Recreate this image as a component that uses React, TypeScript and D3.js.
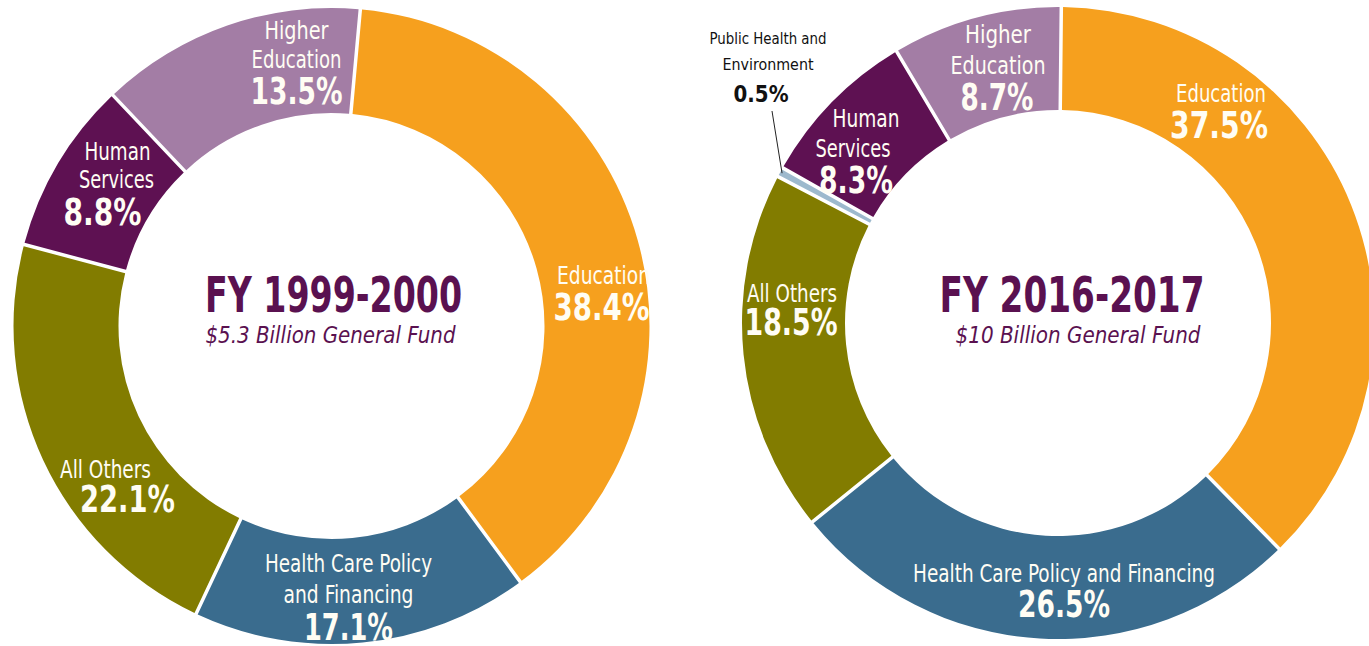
import React from "react";
import * as d3 from "d3";

// ---- Data ----
const leftCategories = ["Education", "Health Care Policy and Financing", "All Others", "Human Services", "Higher Education"];
const leftValues = [38.4, 17.1, 22.1, 8.8, 13.5];
const rightCategories = ["Education", "Health Care Policy and Financing", "All Others", "Public Health and Environment", "Human Services", "Higher Education"];
const rightValues = [37.5, 26.5, 18.5, 0.5, 8.3, 8.7];
const titles = ["FY 1999-2000", "FY 2016-2017"];
const subtitles = ["$5.3 Billion General Fund", "$10 Billion General Fund"];

// ---- Styles ----
const colorMap: Record<string, string> = {
  "Education": "#F6A01E",
  "Health Care Policy and Financing": "#3A6C8E",
  "All Others": "#827C00",
  "Public Health and Environment": "#9DB9CD",
  "Human Services": "#5E1152",
  "Higher Education": "#A37DA5",
};
const FONT = "'DejaVu Sans Condensed', 'Liberation Sans Narrow', 'DejaVu Sans', sans-serif";
const TITLE_COLOR = "#5A1150";
const LABEL_COLOR = "#FFFDF4";

type Line = { t: string; dx: number; dy: number; size: number; w: number; bold?: boolean; color?: string };

// label layout, offsets relative to donut center (w = rendered width)
const leftLabels: Line[] = [
  { t: "Higher", dx: -35, dy: -287, size: 24, w: 64 },
  { t: "Education", dx: -35, dy: -258, size: 24, w: 90 },
  { t: "13.5%", dx: -35, dy: -222, size: 38, w: 92, bold: true },
  { t: "Human", dx: -214, dy: -166, size: 24, w: 66 },
  { t: "Services", dx: -215, dy: -138, size: 24, w: 75 },
  { t: "8.8%", dx: -229, dy: -101, size: 38, w: 78, bold: true },
  { t: "Education", dx: 272, dy: -42, size: 24, w: 93 },
  { t: "38.4%", dx: 270, dy: -6, size: 38, w: 96, bold: true },
  { t: "All Others", dx: -226, dy: 152, size: 24, w: 91 },
  { t: "22.1%", dx: -204, dy: 186, size: 38, w: 95, bold: true },
  { t: "Health Care Policy", dx: 17, dy: 246, size: 24, w: 167 },
  { t: "and Financing", dx: 17, dy: 277, size: 24, w: 130 },
  { t: "17.1%", dx: 17, dy: 314, size: 38, w: 89, bold: true },
];
const rightLabels: Line[] = [
  { t: "Public Health and", dx: -290, dy: -279, size: 16, w: 117, color: "#111" },
  { t: "Environment", dx: -290, dy: -253, size: 16, w: 91, color: "#111" },
  { t: "0.5%", dx: -297, dy: -221, size: 23, w: 55, bold: true, color: "#111" },
  { t: "Human", dx: -192, dy: -196, size: 24, w: 67 },
  { t: "Services", dx: -205, dy: -166, size: 24, w: 75 },
  { t: "8.3%", dx: -202, dy: -130, size: 38, w: 74, bold: true },
  { t: "Higher", dx: -60, dy: -280, size: 24, w: 66 },
  { t: "Education", dx: -60, dy: -249, size: 24, w: 95 },
  { t: "8.7%", dx: -61, dy: -213, size: 38, w: 73, bold: true },
  { t: "Education", dx: 163, dy: -221, size: 24, w: 90 },
  { t: "37.5%", dx: 161, dy: -185, size: 38, w: 98, bold: true },
  { t: "All Others", dx: -266, dy: -21, size: 24, w: 90 },
  { t: "18.5%", dx: -267, dy: 12, size: 38, w: 93, bold: true },
  { t: "Health Care Policy and Financing", dx: 6, dy: 259, size: 24, w: 302 },
  { t: "26.5%", dx: 6, dy: 294, size: 38, w: 92, bold: true },
];

const charts = [
  { cats: leftCategories, vals: leftValues, cx: 331.5, cy: 326, R: 318, r: 213, start: 5.2, labels: leftLabels, title: titles[0], sub: subtitles[0], tdx: 2, tdy: -14, tw: 257, sdx: -1, sdy: 17, sw: 250, leader: null as null | { cat: string; x: number; y: number } },
  { cats: rightCategories, vals: rightValues, cx: 1058, cy: 323, R: 316, r: 213, start: 0.6, labels: rightLabels, title: titles[1], sub: subtitles[1], tdx: 14, tdy: -11, tw: 265, sdx: 20, sdy: 20, sw: 245, leader: { cat: "Public Health and Environment", x: -286, y: -212 } },
];

function Donut({ c }: { c: (typeof charts)[number] }) {
  const a0 = (c.start * Math.PI) / 180;
  const pie = d3.pie<number>().sort(null).value((d) => d).startAngle(a0).endAngle(a0 + 2 * Math.PI);
  const arcs = pie(c.vals);
  const pad = 3.5;
  const arc = d3.arc<d3.PieArcDatum<number>>().innerRadius(c.r).outerRadius(c.R).padRadius(c.R).padAngle(pad / c.R);
  let leaderEl = null;
  if (c.leader) {
    const i = c.cats.indexOf(c.leader.cat);
    const a = arcs[i];
    const mid = (a.startAngle + a.endAngle) / 2;
    const ex = Math.sin(mid) * (c.R - 2);
    const ey = -Math.cos(mid) * (c.R - 2);
    leaderEl = <line x1={c.leader.x} y1={c.leader.y} x2={ex} y2={ey} stroke="#222" strokeWidth={1} />;
  }
  return (
    <g transform={`translate(${c.cx},${c.cy})`}>
      {arcs.map((a, i) => (
        <path key={i} d={arc(a) || ""} fill={colorMap[c.cats[i]]} />
      ))}
      {leaderEl}
      {c.labels.map((l, i) => (
        <text key={i} x={l.dx} y={l.dy} textAnchor="middle" fontFamily={FONT} fontSize={l.size} fontWeight={l.bold ? 700 : 400} fill={l.color || LABEL_COLOR} textLength={l.w} lengthAdjust="spacingAndGlyphs">
          {l.t}
        </text>
      ))}
      <text x={c.tdx} y={c.tdy} textAnchor="middle" fontFamily={FONT} fontSize={50} fontWeight={700} fill={TITLE_COLOR} textLength={c.tw} lengthAdjust="spacingAndGlyphs">
        {c.title}
      </text>
      <text x={c.sdx} y={c.sdy} textAnchor="middle" fontFamily={FONT} fontSize={23} fontStyle="italic" fill={TITLE_COLOR} textLength={c.sw} lengthAdjust="spacingAndGlyphs">
        {c.sub}
      </text>
    </g>
  );
}

export default function App() {
  return (
    <svg width={1369} height={646} style={{ position: "absolute", left: 0, top: 0, background: "#fff" }}>
      <rect width={1369} height={646} fill="#fff" />
      {charts.map((c, i) => (
        <Donut key={i} c={c} />
      ))}
    </svg>
  );
}
